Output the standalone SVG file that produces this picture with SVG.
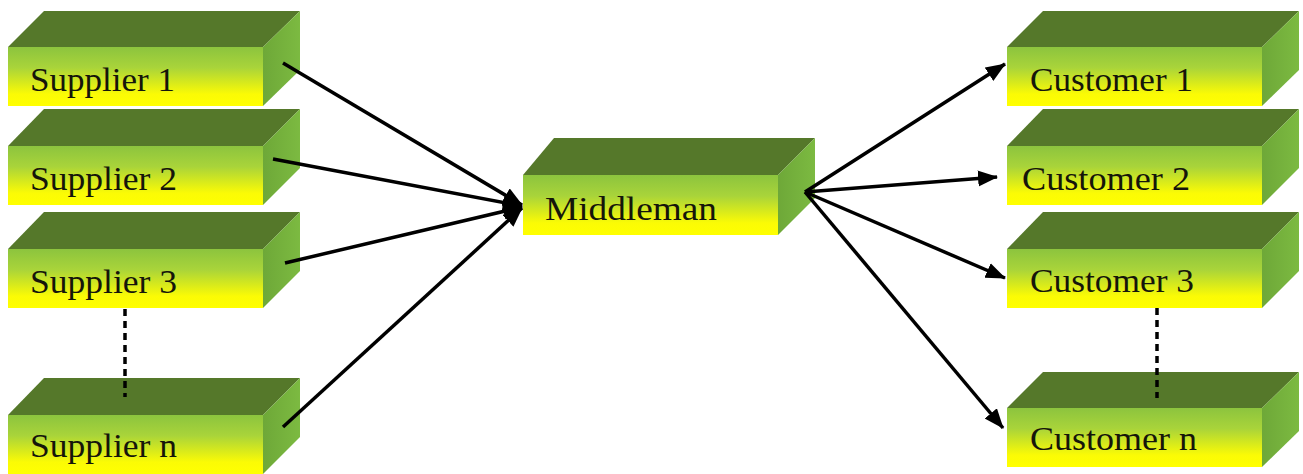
<svg xmlns="http://www.w3.org/2000/svg" width="1303" height="474" viewBox="0 0 1303 474">
<defs>
<linearGradient id="gf" x1="0" y1="0" x2="0" y2="1">
<stop offset="0" stop-color="#8cc43e"/>
<stop offset="0.35" stop-color="#a9d43a"/>
<stop offset="0.8" stop-color="#fbfb05"/>
<stop offset="1" stop-color="#ffff00"/>
</linearGradient>
<linearGradient id="gr" x1="0" y1="0" x2="1" y2="0">
<stop offset="0" stop-color="#6ea838"/>
<stop offset="1" stop-color="#7cba41"/>
</linearGradient>
<marker id="ah" markerUnits="userSpaceOnUse" markerWidth="22" markerHeight="18" refX="19" refY="8" orient="auto">
<path d="M0,0 L20,8 L0,16 z" fill="#000"/>
</marker>
</defs>
<style>
.top{fill:#55782a}
.front{fill:url(#gf)}
.right{fill:url(#gr)}
.lbl{font-family:"Liberation Serif","Times New Roman",serif;font-size:34px;fill:#15150a}
.conn line{stroke:#000;stroke-width:3.5;marker-end:url(#ah)}
.dash{stroke:#222;stroke-width:2;stroke-dasharray:7,5}
</style>
<rect width="1303" height="474" fill="#fff"/>

<g id="supplier1" transform="translate(8,47)">
<polygon class="top" points="0,0 36,-36 292,-36 255,0"/>
<polygon class="right" points="255,0 292,-36 292,23 255,59"/>
<rect class="front" x="0" y="0" width="255" height="59"/>
<text class="lbl" x="22" y="44" textLength="145" lengthAdjust="spacingAndGlyphs">Supplier 1</text>
</g>
<g id="supplier2" transform="translate(8,146)">
<polygon class="top" points="0,0 36,-37 292,-37 255,0"/>
<polygon class="right" points="255,0 292,-37 292,22 255,59"/>
<rect class="front" x="0" y="0" width="255" height="59"/>
<text class="lbl" x="22" y="44" textLength="147" lengthAdjust="spacingAndGlyphs">Supplier 2</text>
</g>
<g id="supplier3" transform="translate(8,249)">
<polygon class="top" points="0,0 36,-37 292,-37 255,0"/>
<polygon class="right" points="255,0 292,-37 292,22 255,59"/>
<rect class="front" x="0" y="0" width="255" height="59"/>
<text class="lbl" x="22" y="44" textLength="147" lengthAdjust="spacingAndGlyphs">Supplier 3</text>
</g>
<g id="suppliern" transform="translate(8,415)">
<polygon class="top" points="0,0 36,-37 292,-37 255,0"/>
<polygon class="right" points="255,0 292,-37 292,22 255,59"/>
<rect class="front" x="0" y="0" width="255" height="59"/>
<text class="lbl" x="22" y="42" textLength="147" lengthAdjust="spacingAndGlyphs">Supplier n</text>
</g>

<g id="middleman" transform="translate(523,175)">
<polygon class="top" points="0,0 31,-37 292,-37 255,0"/>
<polygon class="right" points="255,0 292,-37 292,23 255,60"/>
<rect class="front" x="0" y="0" width="255" height="60"/>
<text class="lbl" x="22" y="45" textLength="172" lengthAdjust="spacingAndGlyphs">Middleman</text>
</g>

<g id="customer1" transform="translate(1007,47)">
<polygon class="top" points="0,0 36,-36 292,-36 255,0"/>
<polygon class="right" points="255,0 292,-36 292,23 255,59"/>
<rect class="front" x="0" y="0" width="255" height="59"/>
<text class="lbl" x="23" y="44" textLength="163" lengthAdjust="spacingAndGlyphs">Customer 1</text>
</g>
<g id="customer2" transform="translate(1007,146)">
<polygon class="top" points="0,0 36,-37 292,-37 255,0"/>
<polygon class="right" points="255,0 292,-37 292,22 255,59"/>
<rect class="front" x="0" y="0" width="255" height="59"/>
<text class="lbl" x="15" y="44" textLength="168" lengthAdjust="spacingAndGlyphs">Customer 2</text>
</g>
<g id="customer3" transform="translate(1007,249)">
<polygon class="top" points="0,0 36,-37 292,-37 255,0"/>
<polygon class="right" points="255,0 292,-37 292,22 255,59"/>
<rect class="front" x="0" y="0" width="255" height="59"/>
<text class="lbl" x="23" y="43" textLength="164" lengthAdjust="spacingAndGlyphs">Customer 3</text>
</g>
<g id="customern" transform="translate(1007,408)">
<polygon class="top" points="0,0 36,-36 292,-36 255,0"/>
<polygon class="right" points="255,0 292,-36 292,23 255,59"/>
<rect class="front" x="0" y="0" width="255" height="59"/>
<text class="lbl" x="23" y="42" textLength="167" lengthAdjust="spacingAndGlyphs">Customer n</text>
</g>

<g id="connectors" class="conn">
<line x1="283" y1="63" x2="522" y2="205"/>
<line x1="273" y1="159" x2="522" y2="206"/>
<line x1="285" y1="263" x2="522" y2="207"/>
<line x1="283" y1="427" x2="522" y2="208"/>
<line x1="805" y1="192" x2="1005" y2="64"/>
<line x1="805" y1="192" x2="997" y2="177"/>
<line x1="805" y1="192" x2="1005" y2="278"/>
<line x1="805" y1="192" x2="1003" y2="428"/>
<line class="dash" x1="125" y1="309" x2="125" y2="397" style="marker-end:none"/>
<line class="dash" x1="1157" y1="308" x2="1157" y2="398" style="marker-end:none"/>
</g>
</svg>
